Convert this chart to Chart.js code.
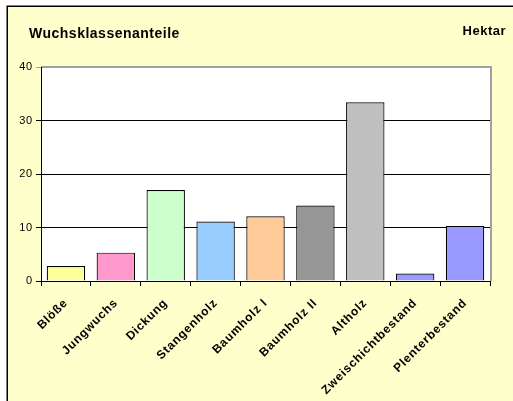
<!DOCTYPE html>
<html lang="de">
<head>
<meta charset="utf-8">
<title>Wuchsklassenanteile</title>
<script src="https://cdn.jsdelivr.net/npm/chart.js@4/dist/chart.umd.min.js"></script>
<style>
    html, body { margin:0; padding:0; background:#fff; }
    #wrap { width:513px; height:401px; }
</style>
</head>
<body>
<div id="wrap"><canvas id="chart-wuchs" width="513" height="401"></canvas></div>
<script>
// ═══ DATA ═══
const klassen = ['Blöße', 'Jungwuchs', 'Dickung', 'Stangenholz', 'Baumholz I', 'Baumholz II', 'Altholz', 'Zweischichtbestand', 'Plenterbestand'];
const hektar = [2.8, 5.3, 17.0, 11.1, 12.1, 14.1, 33.4, 1.4, 10.3];
const farben = ['#FFFF99', '#FF99CC', '#CCFFCC', '#99CCFF', '#FFCC99', '#969696', '#C0C0C0', '#9999FF', '#9999FF'];
const yTicks = [0, 10, 20, 30, 40];

const FONT = 'Arial, "Liberation Sans", sans-serif';

// ═══ FRAME + TITLES ═══
const framePlugin = {
    id: 'frame',
    beforeDraw(chart) {
        const { ctx, chartArea: a } = chart;
        ctx.save();
        // yellow chart panel with black outline (runs off the canvas right/bottom)
        ctx.fillStyle = '#FFFFCC';
        ctx.fillRect(7, 6, chart.width, chart.height);
        ctx.strokeStyle = '#000';
        ctx.lineWidth = 1.5;
        ctx.strokeRect(7.25, 6.25, chart.width + 10, chart.height + 10);
        // white plot area
        ctx.fillStyle = '#fff';
        ctx.fillRect(a.left, a.top, a.right - a.left, a.bottom - a.top);
        ctx.strokeStyle = '#A0A0A0';
        ctx.lineWidth = 2;
        ctx.beginPath();
        ctx.moveTo(a.left, a.top);
        ctx.lineTo(a.right + 1, a.top);
        ctx.lineTo(a.right + 1, a.bottom);
        ctx.stroke();
        // titles
        ctx.fillStyle = '#000';
        ctx.textBaseline = 'alphabetic';
        ctx.letterSpacing = '0.5px';
        ctx.font = 'bold 14px ' + FONT;
        ctx.textAlign = 'left';
        ctx.fillText('Wuchsklassenanteile', 29, 38);
        ctx.font = 'bold 13px ' + FONT;
        ctx.textAlign = 'right';
        ctx.fillText('Hektar', 506, 35);
        ctx.restore();
        // Excel-style loose spacing for the axis labels as well
        ctx.letterSpacing = '0.8px';
    }
};

new Chart(document.getElementById('chart-wuchs'), {
    type: 'bar',
    data: {
        labels: klassen,
        datasets: [{
            data: hektar,
            backgroundColor: farben,
            borderColor: '#000',
            borderWidth: 1.2,
            categoryPercentage: 1,
            barPercentage: 0.77
        }]
    },
    options: {
        responsive: false,
        animation: false,
        layout: { padding: { left: 8, right: 23, top: 67, bottom: 0 } },
        plugins: { legend: { display: false }, tooltip: { enabled: false } },
        scales: {
            x: {
                grid: { offset: true, drawOnChartArea: false, color: '#000', tickLength: 5 },
                border: { color: '#000', width: 1 },
                ticks: {
                    color: '#000', font: { family: FONT, size: 12, weight: 'bold' },
                    maxRotation: 45, minRotation: 45, autoSkip: false, padding: 10
                },
                afterFit: s => { s.height = 120; }
            },
            y: {
                min: 0, max: 40,
                afterBuildTicks: s => { s.ticks = yTicks.map(v => ({ value: v })); },
                grid: {
                    color: c => c.tick && c.tick.value === 40 ? '#A0A0A0' : '#000',
                    tickLength: 5
                },
                border: { color: '#000', width: 1 },
                ticks: { color: '#000', font: { family: FONT, size: 11 }, padding: 3 },
                afterFit: s => { s.width = 33; }
            }
        }
    },
    plugins: [framePlugin]
});
</script>
</body>
</html>
